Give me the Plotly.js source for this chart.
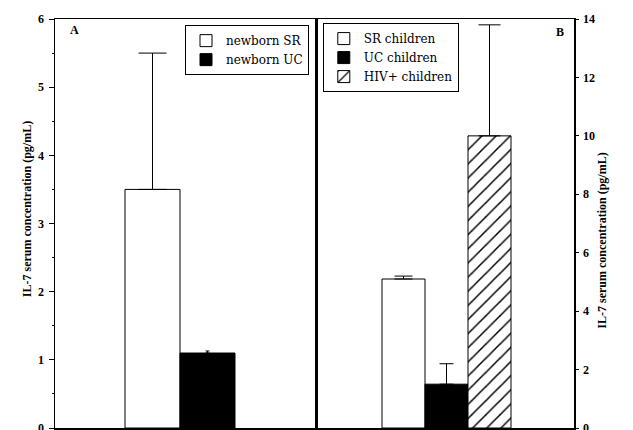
<!DOCTYPE html>
<html>
<head>
<meta charset="utf-8">
<script src="https://cdn.plot.ly/plotly-3.0.1.min.js"></script>
<style>html,body{margin:0;padding:0;background:#fff;}#chart{width:633px;height:430px;}</style>
</head>
<body>
<div id="chart"></div>
<script>
// Panel A: newborns
var newbornLabels = ['newborn SR', 'newborn UC'];
var newbornMeans = [3.5, 1.1];
var newbornErr = [2.0, 0.03];
// Panel B: children
var childrenLabels = ['SR children', 'UC children', 'HIV+ children'];
var childrenMeans = [5.1, 1.5, 10.0];
var childrenErr = [0.1, 0.7, 3.8];

var yTicksA = [0, 1, 2, 3, 4, 5, 6];
var yTicksB = [0, 2, 4, 6, 8, 10, 12, 14];
var yTitle = 'IL-7 serum concentration (pg/mL)';

var SERIF = 'Liberation Serif, Times New Roman, serif';
var LEGSERIF = 'DejaVu Serif, serif';
var capA = [14, 2];
var capB = [9, 7, 11];
var fillA = ['#ffffff', '#000000'];
var fillB = ['#ffffff', '#000000', '#ffffff'];

var traces = [];
newbornLabels.forEach(function (name, i) {
  traces.push({
    type: 'bar', name: name, x: [i], y: [newbornMeans[i]], width: [1],
    xaxis: 'x', yaxis: 'y', legend: 'legend',
    marker: { color: fillA[i], line: { color: '#000', width: 1 } },
    error_y: { type: 'data', array: [newbornErr[i]], arrayminus: [0], symmetric: false,
               color: '#000', thickness: 1, width: capA[i] },
    hoverinfo: 'none'
  });
});
childrenLabels.forEach(function (name, i) {
  var m = { color: fillB[i], line: { color: '#000', width: 1 } };
  if (i === 2) m.pattern = { shape: '/', fgcolor: '#000', fgopacity: 1, bgcolor: '#fff', size: 10, solidity: 0.15, fillmode: 'replace' };
  traces.push({
    type: 'bar', name: name, x: [i], y: [childrenMeans[i]], width: [1],
    xaxis: 'x2', yaxis: 'y2', legend: 'legend2',
    marker: m,
    error_y: { type: 'data', array: [childrenErr[i]], arrayminus: [0], symmetric: false,
               color: '#000', thickness: 1, width: capB[i] },
    hoverinfo: 'none'
  });
});

var split = 261 / 519;
var tickFont = { family: SERIF, size: 12, color: '#000', weight: 'bold' };
var legFont = { family: LEGSERIF, size: 12, color: '#000' };
var titleFont = { family: SERIF, size: 12, color: '#000', weight: 'bold' };

var layout = {
  width: 633, height: 430,
  margin: { l: 55, r: 59, t: 19, b: 2 },
  paper_bgcolor: '#fff', plot_bgcolor: '#fff',
  showlegend: true,
  xaxis: { domain: [0, split], range: [-1.773, 2.973], showticklabels: false, ticks: '',
           showgrid: false, zeroline: false, showline: true, mirror: true, linecolor: '#000', linewidth: 1.5, fixedrange: true },
  xaxis2: { domain: [split, 1], range: [-2.035, 3.965], showticklabels: false, ticks: '',
            showgrid: false, zeroline: false, showline: true, mirror: true, linecolor: '#000', linewidth: 1.5, fixedrange: true, anchor: 'y2' },
  yaxis: { range: [0, 6], tickvals: yTicksA, ticks: 'outside', ticklen: 5, tickcolor: '#000',
           minor: { dtick: 0.5, ticks: 'outside', ticklen: 2, tickcolor: '#000' },
           showgrid: false, zeroline: false, showline: true, mirror: true, linecolor: '#000', linewidth: 1.5,
           tickfont: tickFont, ticklabelstandoff: 2, ticklabeloverflow: 'allow' },
  yaxis2: { range: [0, 14], tickvals: yTicksB, ticks: 'outside', ticklen: 3, tickcolor: '#000',
            side: 'right', anchor: 'x2',
            showgrid: false, zeroline: false, showline: true, mirror: true, linecolor: '#000', linewidth: 1.5,
            tickfont: tickFont, ticklabelstandoff: 2, ticklabeloverflow: 'allow' },
  legend: { x: 0.2505, y: 0.985, xanchor: 'left', yanchor: 'top', bordercolor: '#000', borderwidth: 1,
            bgcolor: '#fff', font: legFont, tracegroupgap: 0, itemwidth: 30 },
  legend2: { x: 0.516, y: 0.99, xanchor: 'left', yanchor: 'top', bordercolor: '#000', borderwidth: 1,
             bgcolor: '#fff', font: legFont, tracegroupgap: 0, itemwidth: 30 },
  annotations: [
    { text: 'A', xref: 'paper', yref: 'paper', x: 0.025, y: 0.995, xanchor: 'left', yanchor: 'top',
      showarrow: false, font: { family: SERIF, size: 12, color: '#000', weight: 'bold' } },
    { text: 'B', xref: 'paper', yref: 'paper', x: 0.985, y: 0.99, xanchor: 'right', yanchor: 'top',
      showarrow: false, font: { family: SERIF, size: 12, color: '#000', weight: 'bold' } },
    { text: yTitle, xref: 'paper', yref: 'paper', x: -0.054, y: 0.535, xanchor: 'center', yanchor: 'middle',
      textangle: -90, showarrow: false, font: titleFont },
    { text: yTitle, xref: 'paper', yref: 'paper', x: 1.055, y: 0.457, xanchor: 'center', yanchor: 'middle',
      textangle: -90, showarrow: false, font: titleFont }
  ]
};

Plotly.newPlot('chart', traces, layout, { displayModeBar: false, staticPlot: true });
</script>
</body>
</html>
